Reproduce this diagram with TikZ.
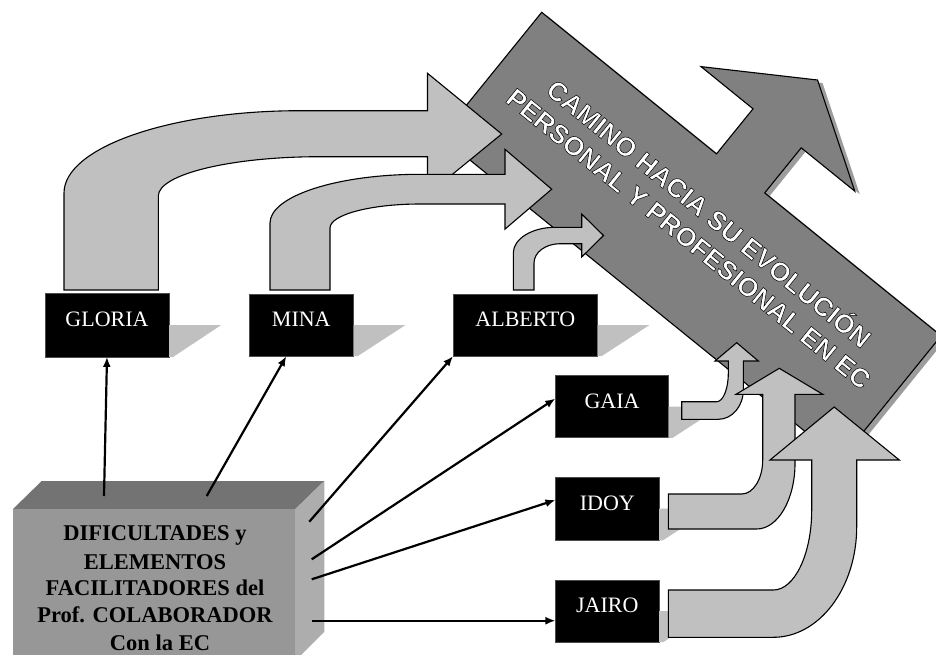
\documentclass[tikz,border=0pt]{standalone}
\usepackage{fontspec}
\setmainfont{Liberation Serif}
\newfontfamily\bandfont{Liberation Sans}
\usetikzlibrary{arrows.meta}
\definecolor{bandgray}{HTML}{808080}
\definecolor{bandshadow}{HTML}{9C9C9C}
\definecolor{lightfill}{HTML}{C0C0C0}
\definecolor{boxfront}{HTML}{979797}
\definecolor{boxtop}{HTML}{737373}
\definecolor{boxside}{HTML}{ADADAD}
% white lettering with a thin dark outline (fill + stroke render mode)
\newcommand\outlinedtext[1]{\special{pdf:literal direct 2 Tr 0.5 w 0 0 0 RG}#1\special{pdf:literal direct 0 Tr}}

\begin{document}
\begin{tikzpicture}[x=1pt,y=-1pt,
  bentarrow/.style={fill=lightfill, draw=black, line width=1.1pt, line join=miter},
  namebox/.style={fill=black, draw=black!70, line width=0.4pt, inner sep=0pt,
    minimum height=62pt, text=white, font=\fontsize{22}{26}\selectfont,
    text height=16pt, text depth=13pt},
  nameshadow/.style={fill=lightfill},
  boxline/.style={font=\bfseries\fontsize{22.5}{27}\selectfont, anchor=base, inner sep=0pt},
  bandtext/.style={font=\bandfont\bfseries\fontsize{26.5}{32}\selectfont, align=center, rotate=-39, inner sep=0pt},
  conn/.style={line width=2.2pt, -{Latex[length=10pt,width=8pt]}}
]
\useasboundingbox (0,0) rectangle (936,654);
\clip (0,0) rectangle (936,654);

% wide band with its arrowhead, drop shadow first
\fill[bandshadow, shift={(5,3)}]
  (541.7,12.3) -- (716.5,153.9) -- (753.0,108.8) -- (701.0,66.6) -- (817.5,80.0)
  -- (854.8,191.2) -- (801.2,147.8) -- (764.7,192.9) -- (941.1,335.8)
  -- (840.4,460.1) -- (441.0,136.6) -- cycle;
\draw[fill=bandgray, line width=1.1pt, line join=miter]
  (541.7,12.3) -- (716.5,153.9) -- (753.0,108.8) -- (701.0,66.6) -- (817.5,80.0)
  -- (854.8,191.2) -- (801.2,147.8) -- (764.7,192.9) -- (941.1,335.8)
  -- (840.4,460.1) -- (441.0,136.6) -- cycle;
\node[bandtext, text=white] (title) at (700.2,224.4)
  {\outlinedtext{CAMINO HACIA SU EVOLUCIÓN}\\\outlinedtext{PERSONAL Y PROFESIONAL EN EC}};

% name boxes
\node[namebox, minimum width=124pt, minimum height=63.4pt] (gloria) at (107,325) {GLORIA};
\node[namebox, minimum width=104pt] (mina) at (301.3,325) {MINA};
\node[namebox, minimum width=144pt] (alberto) at (525.3,325) {ALBERTO};
\node[namebox, minimum width=113pt] (gaia) at (612,406.6) {GAIA};
\node[namebox, minimum width=103.3pt, minimum height=62.7pt] (idoy) at (607.3,508.7) {IDOY};
\node[namebox, minimum width=103.3pt] (jairo) at (607.3,611) {JAIRO};

% cast shadows of the name boxes
\foreach \b in {gloria,mina,alberto,gaia,idoy,jairo}
  \fill[nameshadow] (\b.east) -- ++(52,0) -- ([xshift=4pt]\b.south east) -- (\b.south east) -- cycle;

% bent arrows rising from the upper names
\draw[bentarrow] (64,290) -- (64,193) .. controls (64,147.6) and (169.7,110.7) .. (300,110.7)
  -- (427.5,110.7) -- (427.5,73.3) -- (501.7,134) -- (427.5,194.7) -- (427.5,156.7)
  -- (320,156.7) .. controls (230.7,156.7) and (158.3,174.3) .. (158.3,196) -- (158.3,290) -- cycle;
\draw[bentarrow] (270,290) -- (270,223) .. controls (270,196.1) and (337.2,174.3) .. (420,174.3)
  -- (505,174.3) -- (505,149.3) -- (551.7,189.2) -- (505,229.1) -- (505,204)
  -- (420,204) .. controls (370.3,204) and (330,214.8) .. (330,228) -- (330,290) -- cycle;
\draw[bentarrow] (513.3,290) -- (513.3,253) .. controls (513.3,238.8) and (532,227.3) .. (555,227.3)
  -- (581.7,227.3) -- (581.7,214) -- (603.5,235.5) -- (581.7,257) -- (581.7,243.7)
  -- (560,243.7) .. controls (545.6,243.7) and (534,252.3) .. (534,263) -- (534,290) -- cycle;

% bent arrows turning upwards from the lower names
\draw[bentarrow] (681.7,401.7) -- (716.7,401.7) .. controls (723.1,401.7) and (728.3,389) .. (728.3,373.3)
  -- (728.3,361) -- (715,361) -- (736.7,342.7) -- (758.3,361) -- (743.3,361)
  -- (743.3,390) .. controls (743.3,406.2) and (732.1,419.3) .. (718.3,419.3) -- (681.7,419.3) -- cycle;
\draw[bentarrow] (668.3,494) -- (741.7,494) .. controls (753.3,494) and (762.7,478.8) .. (762.7,460)
  -- (762.7,394.3) -- (736,394.3) -- (779.3,368.3) -- (822.7,394.3) -- (795,394.3)
  -- (795,463.3) .. controls (795,499.6) and (777.8,529) .. (756.7,529) -- (668.3,529) -- cycle;
\draw[bentarrow] (668.3,590) -- (773.3,590) .. controls (794.5,590) and (811.7,554.2) .. (811.7,510)
  -- (811.7,460) -- (770,460) -- (834.2,407) -- (899.3,460) -- (856.7,460)
  -- (856.7,526.7) .. controls (856.7,587.8) and (819.3,637.3) .. (773.3,637.3) -- (668.3,637.3) -- cycle;

% block of difficulties and facilitating elements
\fill[boxtop] (12.7,509.3) -- (41.7,481) -- (324.3,481) -- (295,509.3) -- cycle;
\fill[boxside] (295,509.3) -- (324.3,481) -- (324.3,631.7) -- (295,661) -- cycle;
\fill[boxfront] (12.7,509.3) rectangle (295,661);
\node[boxline] (line1) at (155,540.7) {DIFICULTADES y};
\node[boxline] (line2) at (155,569) {ELEMENTOS};
\node[boxline] (line3) at (155,595.5) {FACILITADORES del};
\node[boxline] (line4) at (155,622) {Prof. COLABORADOR};
\node[boxline] (line5) at (160,650) {Con la EC};

% connectors from the block to each name
\coordinate (s1) at (104,496);
\coordinate (s2) at (206.7,496);
\coordinate (s3) at (309.3,521.7);
\coordinate (s4) at (311.7,559.3);
\coordinate (s5) at (311.7,579.3);
\coordinate (s6) at (311.7,620.7);
\draw[conn] (s1) -- (gloria.south);
\draw[conn] (s2) -- ([xshift=-15pt]mina.south);
\draw[conn] (s3) -- (alberto.south west);
\draw[conn] (s4) -- ([yshift=8pt]gaia.west);
\draw[conn] (s5) -- ([yshift=8.7pt]idoy.west);
\draw[conn] (s6) -- ([yshift=-9.7pt]jairo.west);
\end{tikzpicture}
\end{document}
